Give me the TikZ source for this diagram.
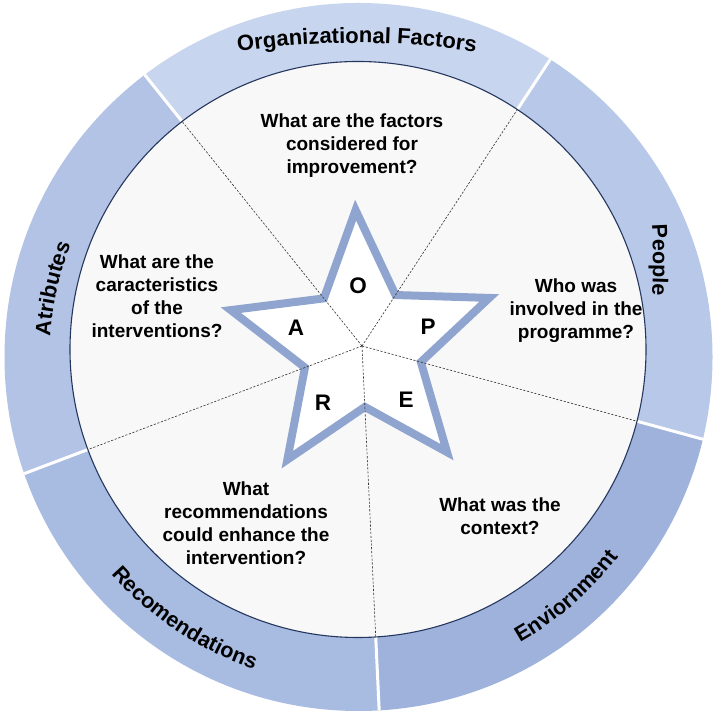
\documentclass[tikz,border=0pt]{standalone}
\usepackage{fontspec}
\setmainfont{Liberation Sans}
\usetikzlibrary{calc,decorations.text}
\definecolor{segO}{HTML}{C8D5EE}
\definecolor{segP}{HTML}{B7C8E8}
\definecolor{segE}{HTML}{9EB2DB}
\definecolor{segR}{HTML}{A8BBE1}
\definecolor{segA}{HTML}{B2C3E5}
\definecolor{innerfill}{HTML}{F8F8F8}
\definecolor{innerline}{HTML}{26375F}
\definecolor{starline}{HTML}{8FA5CF}
\newcommand\ringfont{\fontsize{21.5}{25}\selectfont\bfseries}
\newcommand\ringfontbig{\fontsize{22}{26}\selectfont\bfseries}
\newcommand\qfont{\fontsize{19}{23}\selectfont\bfseries}
\newcommand\starfont{\fontsize{22.5}{26}\selectfont\bfseries}
\begin{document}
\begin{tikzpicture}[x=1pt,y=1pt,
  question/.style={align=center,font=\qfont,text=black,inner sep=0pt},
  starletter/.style={font=\starfont,inner sep=0pt},
  ringtext/.style={decorate,decoration={text along path,text align=center,text={|\ringfont|#1}}},
  ringtextbig/.style={decorate,decoration={text along path,text align=center,text={|\ringfontbig|#1}}},
  sep/.style={white,line width=3pt},
  guide/.style={black!80,line width=0.6pt,dash pattern=on 2.2pt off 1.6pt},
]
\useasboundingbox (0,0) rectangle (718,719);
\fill[white] (0,0) rectangle (718,719);
\coordinate (oc) at (358.5,362);
\coordinate (ic) at (358,369.5);
\coordinate (sc) at (362,373);

% ring segments
\begin{scope}
  \clip (oc) circle[radius=354];
  \foreach \a/\c in {56.7/segO,128.7/segA,200.7/segR,272.7/segE,344.7/segP}{
    \fill[\c] (sc) -- ($(sc)+(\a:800)$) -- ($(sc)+({\a+36}:1000)$) -- ($(sc)+({\a+72}:800)$) -- cycle;
  }
  \foreach \a in {56.7,128.7,200.7,272.7,344.7}{
    \draw[sep] (sc) -- ($(sc)+(\a:520)$);
  }
\end{scope}

% inner disc
\filldraw[fill=innerfill,draw=innerline,line width=1.1pt] (ic) circle[radius=288];

% star
\draw[starline,line width=8pt,fill=white,line join=miter]
  ($(sc)+(92.7:136)$) -- ($(sc)+(56.7:61)$) --
  ($(sc)+(20.7:136)$) -- ($(sc)+(-15.3:61)$) --
  ($(sc)+(-51.3:136)$) -- ($(sc)+(-87.3:61)$) --
  ($(sc)+(-123.3:136)$) -- ($(sc)+(-159.3:61)$) --
  ($(sc)+(164.7:136)$) -- ($(sc)+(128.7:61)$) -- cycle;

% dashed guides
\begin{scope}
  \clip (ic) circle[radius=287.5];
  \foreach \a in {56.7,128.7,200.7,272.7,344.7}{
    \draw[guide] (sc) -- ($(sc)+(\a:400)$);
  }
\end{scope}

% star letters
\node[starletter] (lO) at (358,433) {O};
\node[starletter] (lA) at (296,391) {A};
\node[starletter] (lP) at (428,392) {P};
\node[starletter] (lR) at (323,316) {R};
\node[starletter] (lE) at (406,319) {E};

% questions
\node[question] (qO) at (352,573) {What are the factors\\considered for\\improvement?};
\node[question] (qP) at (576,408) {Who was\\involved in the\\programme?};
\node[question] (qE) at (500,203) {What was the\\context?};
\node[question] (qR) at (246,196) {What\\recommendations\\could enhance the\\intervention?};
\node[question] (qA) at (157,422.5) {What are the\\caracteristics\\of the\\interventions?};

% ring labels
\path[ringtextbig=Organizational Factors] ($(357,-124)+(100:800)$) arc[start angle=100,end angle=80,radius=800];
\path[ringtext=People] ($(53,459)+(10:600)$) arc[start angle=10,end angle=-10,radius=600];
\path[ringtext=Atributes] ($(oc)+(187.4:309)$) arc[start angle=187.4,end angle=147.4,radius=309];
\path[ringtext=Enviornment] ($(oc)+(-69:328)$) arc[start angle=-69,end angle=-29,radius=328];
\path[ringtext=Recomendations] ($(oc)+(-143.6:329)$) arc[start angle=-143.6,end angle=-103.6,radius=329];
\end{tikzpicture}
\end{document}
